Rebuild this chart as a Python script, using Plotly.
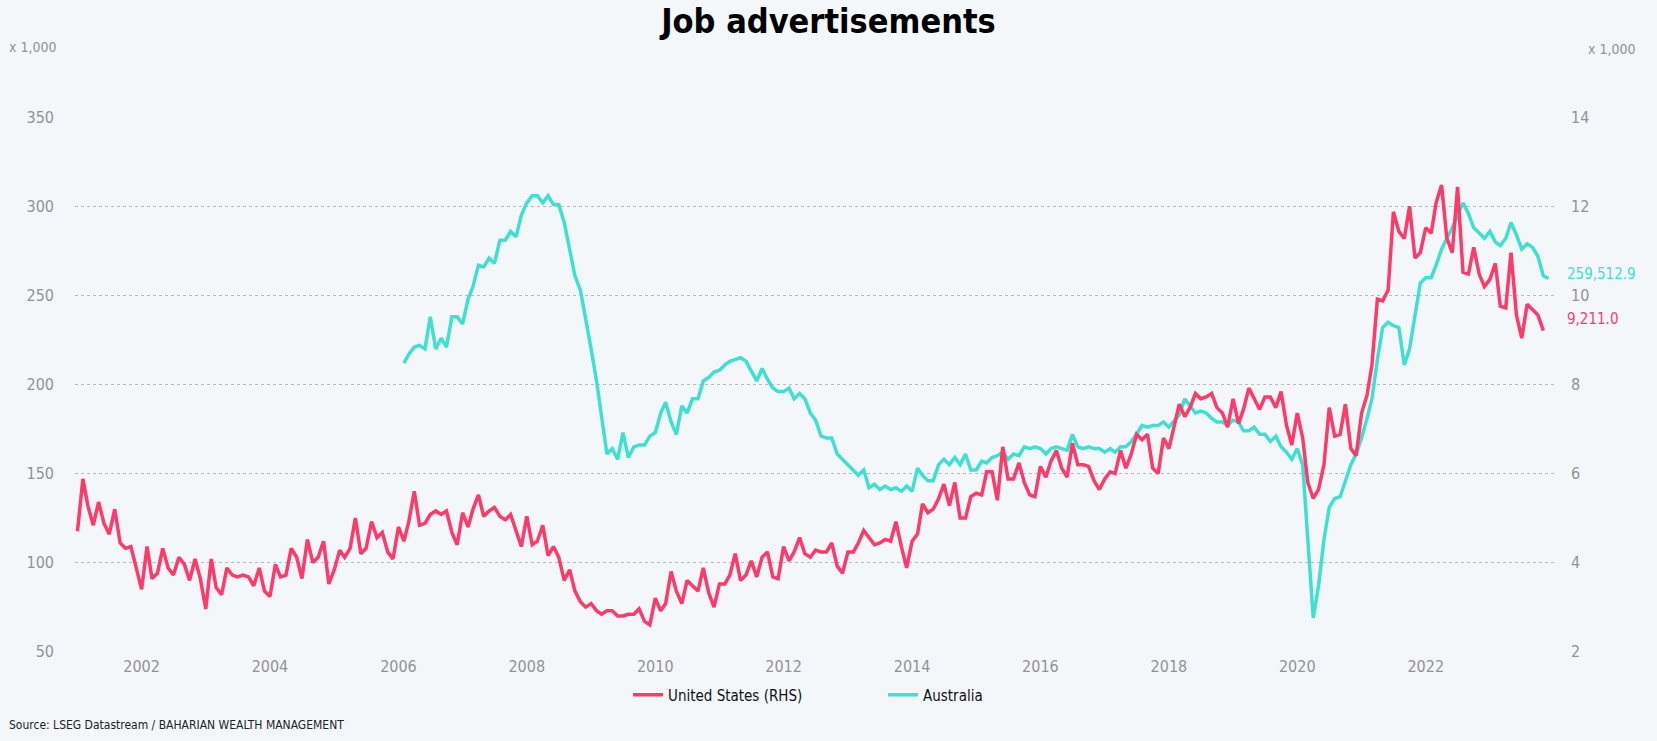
import pandas as pd
import plotly.graph_objects as go

# ---------------- data ----------------
# United States job openings (thousands), monthly from Jan 2001 (right axis)
us_start = "2001-01-01"
us_values = [
    4704, 5880, 5280, 4840, 5360, 4880, 4640, 5200, 4440, 4320, 4360, 3880,
    3400, 4360, 3640, 3760, 4320, 3880, 3720, 4120, 3960, 3600, 4080,
    3640, 2960, 4080, 3440, 3280, 3880, 3720, 3680, 3720, 3680, 3480, 3880,
    3360, 3240, 3960, 3680, 3720, 4320, 4120, 3640, 4520, 4000, 4120, 4480,
    3520, 3840, 4280, 4120, 4320, 5000, 4200, 4320, 4920, 4560, 4680,
    4240, 4080, 4800, 4480, 4920, 5600, 4840, 4880, 5080, 5160, 5080, 5160,
    4680, 4400, 5120, 4800, 5200, 5520, 5040, 5160, 5240, 5040, 4960, 5080,
    4680, 4360, 5040, 4400, 4480, 4840, 4160, 4360, 4120, 3600, 3840, 3360,
    3120, 3000, 3080, 2920, 2840, 2920, 2920, 2800, 2800, 2840, 2840, 2960,
    2680, 2600, 3200, 2920, 3080, 3800, 3360, 3080, 3600, 3480, 3360, 3880,
    3320, 3000, 3520, 3520, 3720, 4200, 3600, 3720, 4040, 3680, 4120, 4240,
    3680, 3640, 4360, 4040, 4240, 4560, 4200, 4120, 4280, 4240, 4240, 4440,
    3920, 3760, 4240, 4240, 4440, 4720, 4560, 4400, 4440, 4520, 4480, 4920,
    4360, 3880, 4480, 4640, 5320, 5120, 5200, 5440, 5760, 5280, 5800, 5000,
    5000, 5480, 5560, 5520, 6040, 6040, 5400, 6600, 5880, 5880, 6240, 5800,
    5520, 5480, 6160, 5920, 6280, 6520, 6120, 5920, 6680, 6200, 6200, 6160,
    5840, 5640, 5880, 6040, 6000, 6520, 6120, 6440, 6880, 6760, 6880, 6120,
    6000, 6800, 6560, 7120, 7560, 7280, 7480, 7800, 7680, 7720, 7800, 7480,
    7360, 7040, 7680, 7120, 7440, 7920, 7680, 7440, 7720, 7720, 7480, 7840,
    7080, 6640, 7360, 6800, 5800, 5440, 5640, 6200, 7480, 6840, 6880, 7560,
    6560, 6400, 7360, 7760, 8440, 9920, 9880, 10120, 11880, 11440, 11280, 12000,
    10840, 10960, 11520, 11400, 12080, 12480, 11280, 10960, 12440, 10520, 10480, 11080,
    10480, 10200, 10360, 10720, 9760, 9720, 10960, 9560, 9040, 9800, 9680, 9560, 9211.0,
]

# Australia job advertisements (units), monthly from Feb 2006 (left axis)
aus_start = "2006-02-01"
aus_values = [
    212000, 217000, 221000, 222000, 220000, 238000, 220000, 226000, 221000, 238000, 238000,
    234000, 248000, 255000, 267000, 266000, 271000, 268000, 281000, 281000, 286000, 283000, 295000,
    302000, 306000, 306000, 302000, 306000, 301000, 301000, 291000, 276000, 261000, 253000, 238000,
    220000, 202000, 184000, 161000, 164000, 158000, 173000, 159000, 165000, 166000, 166000, 171000,
    173000, 184000, 190000, 179000, 172000, 188000, 184000, 192000, 192000, 202000, 204000, 207000,
    208000, 211000, 213000, 214000, 215000, 213000, 208000, 202000, 209000, 203000, 198000, 196000,
    196000, 198000, 192000, 195000, 192000, 184000, 180000, 171000, 170000, 170000, 161000, 158000,
    155000, 152000, 149000, 152000, 142000, 144000, 141000, 143000, 141000, 142000, 140000,
    143000, 140000, 153000, 149000, 146000, 146000, 155000, 158000, 155000, 159000, 155000, 161000,
    152000, 152000, 157000, 156000, 159000, 160000, 162000, 158000, 161000, 160000, 165000, 164000,
    165000, 164000, 161000, 164000, 165000, 164000, 163000, 172000, 165000, 164000, 165000,
    164000, 164000, 162000, 164000, 162000, 165000, 165000, 168000, 172000, 177000, 176000, 177000,
    177000, 179000, 176000, 180000, 183000, 192000, 188000, 184000, 185000, 184000, 181000, 179000,
    179000, 177000, 180000, 179000, 174000, 174000, 176000, 172000, 172000, 168000, 171000, 165000,
    162000, 158000, 164000, 155000, 113000, 69000,
    87000, 113000, 131000, 136000, 137000, 146000, 155000, 161000,
    170000, 181000, 192000, 214000, 232000, 235000, 233000, 232000,
    211000, 220000, 238000, 257000, 260000, 260000, 267000, 276000,
    282000, 288000, 295000, 302000, 296000, 288000, 285000, 282000,
    286000, 280000, 278000, 282000, 291000, 284000, 276000, 279000,
    277000, 272000, 261000, 259512.9,
]

x_tick_years = ["2002", "2004", "2006", "2008", "2010", "2012",
                "2014", "2016", "2018", "2020", "2022"]
left_ticks = [50, 100, 150, 200, 250, 300, 350]
right_ticks = [2, 4, 6, 8, 10, 12, 14]

title_text = "Job advertisements"
source_text = "Source: LSEG Datastream / BAHARIAN WEALTH MANAGEMENT"
us_name = "United States (RHS)"
aus_name = "Australia"

# ---------------- styling ----------------
US_C = "#fd3a69"
AUS_C = "#40e0d0"
BG = "#f4f7fa"
GRAY = "#929292"
FONT = '"Liberation Sans Narrow", "DejaVu Sans Condensed", "Liberation Sans", Arial, sans-serif'

W, H = 1657, 741
L, R, T, B = 75, 101, 117, 89
PW, PH = W - L - R, H - T - B

us_dates = pd.date_range(us_start, periods=len(us_values), freq="MS")
aus_dates = pd.date_range(aus_start, periods=len(aus_values), freq="MS")

fig = go.Figure()
fig.add_trace(go.Scatter(
    x=aus_dates, y=[v / 1000 for v in aus_values], name=aus_name, mode="lines",
    line=dict(color=AUS_C, width=3.5), yaxis="y", legendrank=2,
))
fig.add_trace(go.Scatter(
    x=us_dates, y=[v / 1000 for v in us_values], name=us_name, mode="lines",
    line=dict(color=US_C, width=3.5), yaxis="y2", legendrank=1,
))

fig.update_layout(
    width=W, height=H,
    paper_bgcolor=BG, plot_bgcolor=BG,
    margin=dict(l=L, r=R, t=T, b=B, autoexpand=False),
    font=dict(family=FONT, color=GRAY, size=16),
    title=dict(text=title_text, x=0.5, xanchor="center", y=1 - 21 / H, yanchor="middle",
               font=dict(family=FONT, size=34, color="#000000", weight="bold")),
    showlegend=True,
    legend=dict(orientation="h", x=(628 - L) / PW, xanchor="left",
                y=-(695 - (H - B)) / PH, yanchor="middle",
                font=dict(family=FONT, size=15, color="#111111"),
                bgcolor="rgba(0,0,0,0)", entrywidth=210, entrywidthmode="pixels"),
    xaxis=dict(
        range=["2000-12-18", "2024-01-12"],
        tickvals=[pd.Timestamp(y + "-01-01") for y in x_tick_years],
        ticktext=x_tick_years,
        showgrid=False, zeroline=False, showline=False, ticks="",
        tickfont=dict(family=FONT, size=16, color=GRAY),
        ticklabelstandoff=3,
    ),
    yaxis=dict(
        range=[49.8, 350.2], tickvals=left_ticks, ticktext=[str(t) for t in left_ticks],
        showgrid=True, gridcolor="#b8bcc0", griddash="dot", gridwidth=1,
        zeroline=False, showline=False, ticks="",
        tickfont=dict(family=FONT, size=16, color=GRAY),
        ticklabelstandoff=20,
    ),
    yaxis2=dict(
        range=[49.8 / 25, 350.2 / 25], tickvals=right_ticks, ticktext=[str(t) for t in right_ticks],
        overlaying="y", side="right", showgrid=False, zeroline=False, showline=False, ticks="",
        tickfont=dict(family=FONT, size=16, color=GRAY),
        ticklabelstandoff=14,
    ),
)

annotations = [
    dict(text="x 1,000", xref="paper", yref="paper", x=(7 - L) / PW, y=(H - B - 47) / PH,
         xanchor="left", yanchor="middle", showarrow=False,
         font=dict(family=FONT, size=14, color=GRAY)),
    dict(text="x 1,000", xref="paper", yref="paper", x=(1638 - L) / PW, y=(H - B - 49) / PH,
         xanchor="right", yanchor="middle", showarrow=False,
         font=dict(family=FONT, size=14, color=GRAY)),
    dict(text=f"{aus_values[-1]:,.1f}", xref="paper", yref="y", x=1, y=aus_values[-1] / 1000,
         xanchor="left", yanchor="middle", xshift=9, yshift=5, showarrow=False,
         font=dict(family=FONT, size=15, color=AUS_C)),
    dict(text=f"{us_values[-1]:,.1f}", xref="paper", yref="y2", x=1, y=us_values[-1] / 1000,
         xanchor="left", yanchor="middle", xshift=9, yshift=12, showarrow=False,
         font=dict(family=FONT, size=15, color=US_C)),
    dict(text=source_text, xref="paper", yref="paper", x=(7 - L) / PW, y=-(725 - (H - B)) / PH,
         xanchor="left", yanchor="middle", showarrow=False,
         font=dict(family=FONT, size=12, color="#222222")),
]
fig.update_layout(annotations=annotations)

fig.write_html(
    "out.html",
    config={"displayModeBar": False},
    post_script=f"document.body.style.margin='0';document.body.style.background='{BG}';",
)
